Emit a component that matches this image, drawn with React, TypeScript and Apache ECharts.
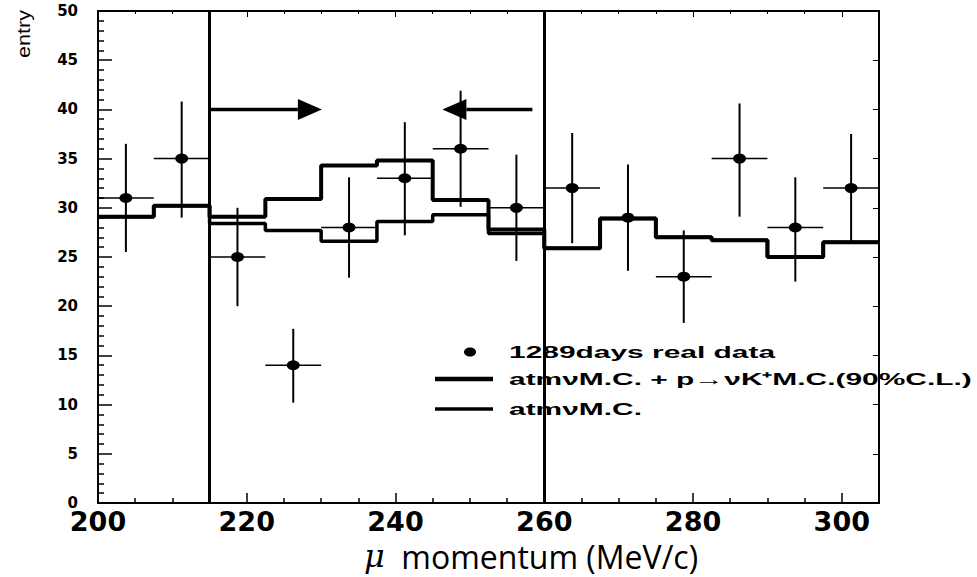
import React, { useEffect, useRef } from 'react';
import * as echarts from 'echarts';

// ---- data ----
const binEdges = [200, 207.5, 215, 222.5, 230, 237.5, 245, 252.5, 260, 267.5, 275, 282.5, 290, 297.5, 305];
const dataCounts = [31, 35, 25, 14, 28, 33, 36, 30, 32, 29, 23, 35, 28, 32];
const errLow = [25.5, 29.0, 20.0, 10.2, 22.9, 27.2, 30.1, 24.6, 26.4, 23.6, 18.3, 29.1, 22.5, 26.4];
const errHigh = [36.5, 40.8, 30.0, 17.7, 33.1, 38.7, 41.9, 35.4, 37.6, 34.4, 27.7, 40.6, 33.1, 37.5];
const atmMC = [29.1, 30.2, 28.4, 27.7, 26.6, 28.6, 29.3, 27.4, 25.9, 28.9, 27.0, 26.7, 25.0, 26.5];
const atmPlusPKMC = [29.1, 30.2, 29.1, 30.9, 34.3, 34.8, 30.8, 27.8, 25.9, 28.9, 27.0, 26.7, 25.0, 26.5];
const cutLines = [215, 260];
// [start x, tip x, y]
const arrowSpecs = [
  [215, 230.1, 40],
  [258.4, 246.3, 40],
];
const legendLabels = [
  '1289days real data',
  'atmνM.C. + p→νK⁺M.C.(90%C.L.)',
  'atmνM.C.',
];
const xTitle = '{i|μ}  momentum (MeV/c)';
const yTitle = 'entry';

const histData = (vals: number[]) => {
  const pts: number[][] = vals.map((v, i) => [binEdges[i], v]);
  pts.push([binEdges[binEdges.length - 1], vals[vals.length - 1]]);
  return pts;
};

export default function App() {
  const ref = useRef<HTMLDivElement>(null);
  useEffect(() => {
    if (!ref.current) return;
    const chart = echarts.init(ref.current, null, { renderer: 'svg' });
    const errRows = dataCounts.map((v, i) => [binEdges[i], binEdges[i + 1], v, errLow[i], errHigh[i]]);
    const dotRows = dataCounts.map((v, i) => [(binEdges[i] + binEdges[i + 1]) / 2, v]);
    const legendFont = {
      fontFamily: '"Liberation Sans", Arial, sans-serif',
      fontWeight: 'bold' as const,
      fontSize: 17,
      fill: '#000',
    };
    const option: any = {
      animation: false,
      backgroundColor: '#fff',
      grid: { left: 98, right: 98, top: 11, bottom: 74, containLabel: false, outerBoundsMode: 'none' },
      xAxis: [
        {
          type: 'value',
          min: 200,
          max: 305,
          interval: 20,
          position: 'bottom',
          axisLine: { show: true, onZero: false, lineStyle: { color: '#000', width: 2 } },
          axisTick: { show: true, inside: true, length: 10, lineStyle: { color: '#000', width: 1.5 } },
          minorTick: { show: true, splitNumber: 4, length: 5, lineStyle: { color: '#000', width: 1.5 } },
          splitLine: { show: false },
          axisLabel: {
            showMaxLabel: false,
            margin: 7,
            color: '#000',
            fontFamily: '"DejaVu Sans", sans-serif',
            fontWeight: 'bold',
            fontSize: 27,
            lineHeight: 22,
          },
          name: xTitle,
          nameLocation: 'middle',
          nameGap: 32,
          nameTextStyle: {
            color: '#000',
            fontFamily: '"Open Sans", "Noto Sans", sans-serif',
            fontSize: 32,
            lineHeight: 34,
            padding: [0, 0, 0, 85],
            rich: {
              i: { fontStyle: 'italic', fontSize: 32, lineHeight: 34, color: '#000', fontFamily: '"DejaVu Serif", serif' },
            },
          },
        },
        {
          type: 'value',
          min: 200,
          max: 305,
          interval: 20,
          position: 'top',
          axisLine: { show: true, onZero: false, lineStyle: { color: '#000', width: 2 } },
          axisTick: { show: true, inside: true, length: 6, lineStyle: { color: '#000', width: 1 } },
          minorTick: { show: true, splitNumber: 4, length: 3, lineStyle: { color: '#000', width: 1 } },
          splitLine: { show: false },
          axisLabel: { show: false },
        },
      ],
      yAxis: [
        {
          type: 'value',
          min: 0,
          max: 50,
          interval: 5,
          position: 'left',
          axisLine: { show: true, onZero: false, lineStyle: { color: '#000', width: 2 } },
          axisTick: { show: true, inside: true, length: 14, lineStyle: { color: '#000', width: 1.5 } },
          minorTick: { show: true, splitNumber: 5, length: 6, lineStyle: { color: '#000', width: 1.5 } },
          splitLine: { show: false },
          axisLabel: {
            margin: 20,
            color: '#000',
            fontFamily: '"DejaVu Sans", sans-serif',
            fontWeight: 'bold',
            fontSize: 15,
            lineHeight: 12,
          },
        },
        {
          type: 'value',
          min: 0,
          max: 50,
          interval: 5,
          position: 'right',
          axisLine: { show: true, onZero: false, lineStyle: { color: '#000', width: 2 } },
          axisTick: { show: true, inside: true, length: 6, lineStyle: { color: '#000', width: 1 } },
          minorTick: { show: false },
          splitLine: { show: false },
          axisLabel: { show: false },
        },
      ],
      series: [
        {
          name: 'atmνM.C.',
          type: 'line',
          step: 'end',
          data: histData(atmMC),
          showSymbol: false,
          symbol: 'none',
          lineStyle: { color: '#000', width: 3.5 },
          z: 3,
        },
        {
          name: 'atmνM.C. + p→νK⁺M.C.(90%C.L.)',
          type: 'line',
          step: 'end',
          data: histData(atmPlusPKMC),
          showSymbol: false,
          symbol: 'none',
          lineStyle: { color: '#000', width: 4 },
          z: 3,
          markLine: {
            silent: true,
            symbol: 'none',
            label: { show: false },
            lineStyle: { color: '#000', width: 3, type: 'solid' },
            data: cutLines.map((x) => ({ xAxis: x })),
          },
        },
        {
          name: 'errors',
          type: 'custom',
          data: errRows,
          encode: { x: [0, 1], y: [2, 3, 4] },
          z: 4,
          renderItem: (params: any, api: any) => {
            const lo = api.value(0);
            const hi = api.value(1);
            const v = api.value(2);
            const eLo = api.value(3);
            const eHi = api.value(4);
            const c = (lo + hi) / 2;
            const pL = api.coord([lo, v]);
            const pR = api.coord([hi, v]);
            const pT = api.coord([c, eHi]);
            const pB = api.coord([c, eLo]);
            return {
              type: 'group',
              children: [
                { type: 'line', shape: { x1: pL[0], y1: pL[1], x2: pR[0], y2: pR[1] }, style: { stroke: '#000', lineWidth: 1.5 } },
                { type: 'line', shape: { x1: pT[0], y1: pT[1], x2: pB[0], y2: pB[1] }, style: { stroke: '#000', lineWidth: 2 } },
              ],
            };
          },
        },
        {
          name: legendLabels[0],
          type: 'scatter',
          data: dotRows,
          symbol: 'circle',
          symbolSize: [13, 10],
          itemStyle: { color: '#000', opacity: 1 },
          z: 5,
        },
        {
          name: 'arrows',
          type: 'custom',
          data: arrowSpecs,
          encode: { x: [0, 1], y: 2 },
          z: 5,
          renderItem: (params: any, api: any) => {
            const s = api.coord([api.value(0), api.value(2)]);
            const t = api.coord([api.value(1), api.value(2)]);
            const dir = Math.sign(t[0] - s[0]);
            const headLen = 24;
            const headHalf = 10.5;
            const base = t[0] - dir * headLen;
            return {
              type: 'group',
              children: [
                { type: 'line', shape: { x1: s[0], y1: s[1], x2: base, y2: t[1] }, style: { stroke: '#000', lineWidth: 3.5 } },
                {
                  type: 'polygon',
                  shape: { points: [[t[0], t[1]], [base, t[1] - headHalf], [base, t[1] + headHalf]] },
                  style: { fill: '#000' },
                },
              ],
            };
          },
        },
      ],
      graphic: [
        {
          type: 'text',
          x: 24,
          y: 34,
          rotation: Math.PI / 2,
          scaleX: 1.2,
          style: {
            text: yTitle,
            fontFamily: '"Liberation Sans", Arial, sans-serif',
            fontSize: 18,
            fill: '#000',
            align: 'center',
            verticalAlign: 'middle',
          },
        },
        { type: 'ellipse', shape: { cx: 470, cy: 352, rx: 6, ry: 4.5 }, style: { fill: '#000' } },
        { type: 'line', shape: { x1: 435, y1: 379, x2: 493, y2: 379 }, style: { stroke: '#000', lineWidth: 4.5 } },
        { type: 'line', shape: { x1: 435, y1: 409, x2: 493, y2: 409 }, style: { stroke: '#000', lineWidth: 3.5 } },
        {
          type: 'text', x: 509, y: 352, scaleX: 1.76,
          style: { ...legendFont, text: legendLabels[0], align: 'left', verticalAlign: 'middle' },
        },
        {
          type: 'text', x: 509, y: 379, scaleX: 1.76,
          style: { ...legendFont, text: legendLabels[1], align: 'left', verticalAlign: 'middle' },
        },
        {
          type: 'text', x: 509, y: 409, scaleX: 1.76,
          style: { ...legendFont, text: legendLabels[2], align: 'left', verticalAlign: 'middle' },
        },
      ],
    };
    chart.setOption(option);
    return () => chart.dispose();
  }, []);
  return (
    <div
      ref={ref}
      style={{ position: 'fixed', left: 0, top: 0, width: 977, height: 577, background: '#fff' }}
    />
  );
}
